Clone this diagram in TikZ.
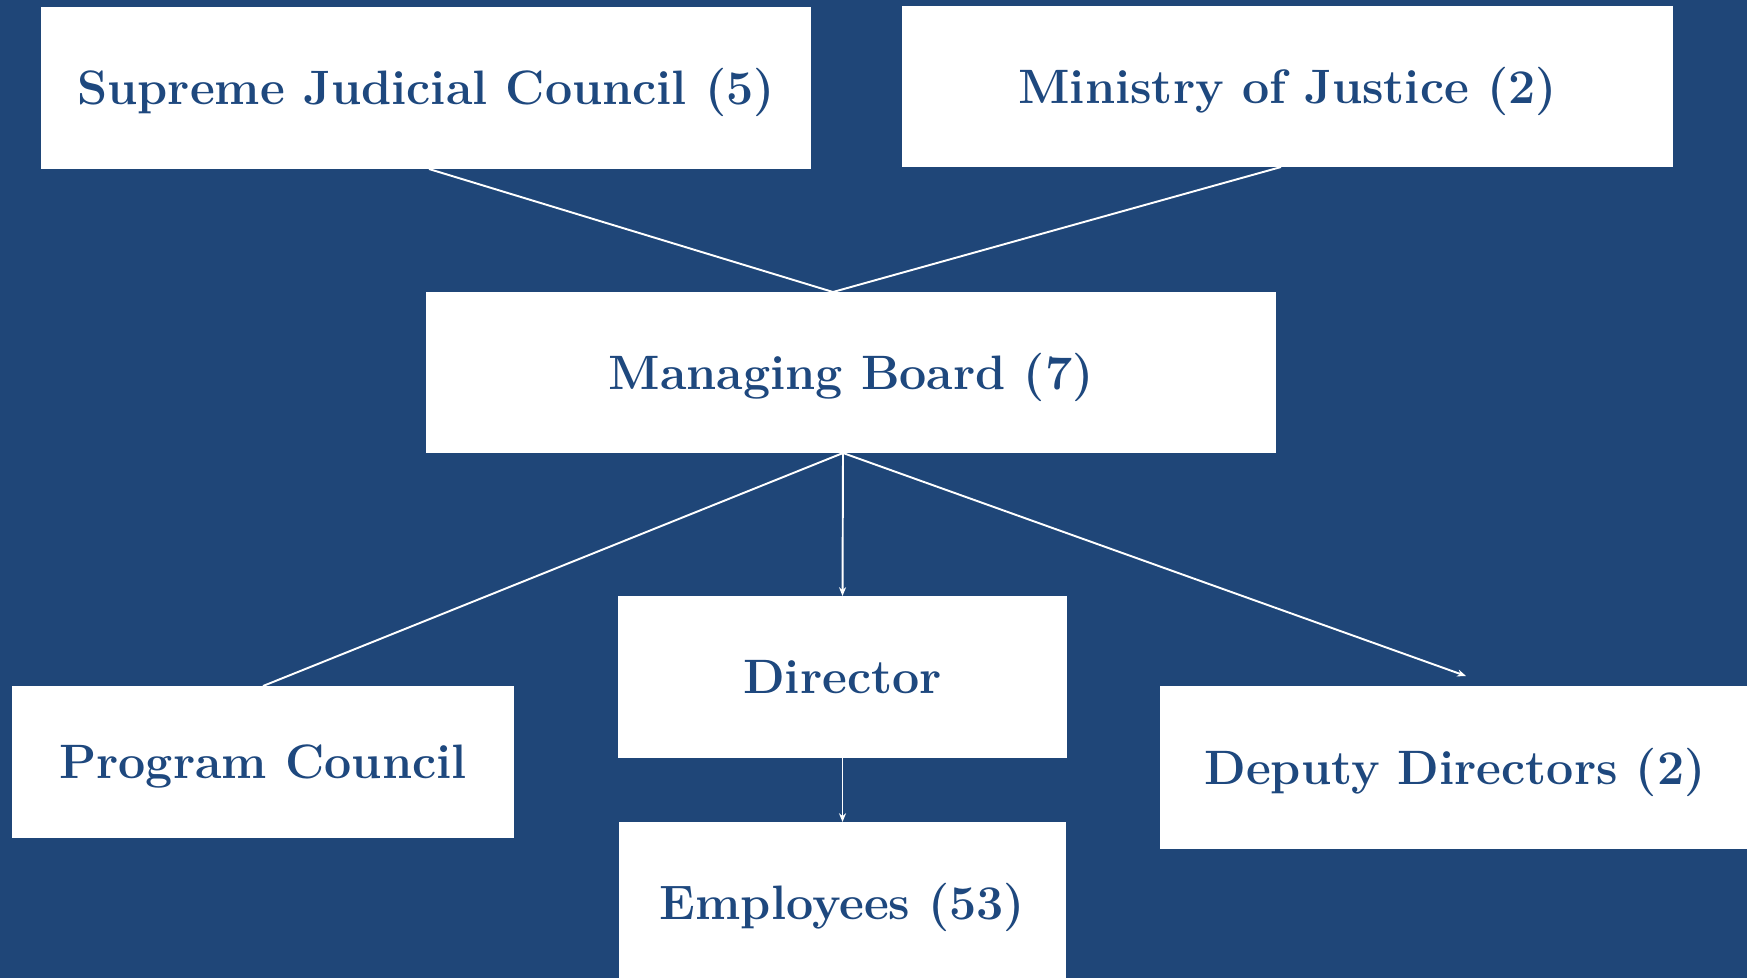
\documentclass[tikz,border=0pt]{standalone}
\usetikzlibrary{arrows.meta}
\usetikzlibrary{positioning}
\definecolor{bgblue}{RGB}{31,70,120}
\definecolor{boxtext}{RGB}{30,72,126}

\begin{document}
\begin{tikzpicture}[x=0.2mm, y=-0.2mm,
        orgbox/.style = {fill=white, text=boxtext, align=center,
            font=\bfseries\fontsize{27.5}{33}\selectfont,
            text height=24pt, text depth=5pt,
            inner sep=0pt, outer sep=0pt},
        link/.style = {draw=white, line width=1.1pt},
        arrow/.style = {link, -{Stealth[length=5pt,width=4pt]}}]
        \fill[bgblue] (0,0) rectangle (1747,978);
        \useasboundingbox (0,0) rectangle (1747,978);
        \node[orgbox, minimum width=154mm, minimum height=32.4mm] (sjc) at (426,88) {Supreme Judicial Council (5)};
        \node[orgbox, minimum width=154.2mm, minimum height=32.2mm] (moj) at (1287.5,86.5) {Ministry of Justice (2)};
        \node[orgbox, minimum width=170mm, minimum height=32.2mm] (board) at (851,372.5) {Managing Board (7)};
        \node[orgbox, minimum width=89.8mm, minimum height=32.4mm] (dir) at (842.5,677) {Director};
        \node[orgbox, minimum width=100.4mm, minimum height=30.4mm] (prog) at (263,762) {Program Council};
        \node[orgbox, minimum width=118mm, minimum height=32.6mm] (dep) at (1455,767.5) {Deputy Directors (2)};
        \node[orgbox, minimum width=89.4mm, minimum height=32.2mm] (emp) at (842.5,902.5) {Employees (53)};
        % meeting points on the board
        \coordinate (boardtop) at (833,292);
        \coordinate (boardbot) at (843,453);
        \coordinate (deptip) at (1466,676);
        \draw[link] (sjc.south -| 429,0) -- (boardtop);
        \draw[link] (moj.south -| 1281,0) -- (boardtop);
        \draw[link] (boardbot) -- (prog.north);
        \draw[arrow] (boardbot) -- (dir.north);
        \draw[arrow] (boardbot) -- (deptip);
        \draw[arrow] (dir.south) -- (emp.north);
\end{tikzpicture}
\end{document}
